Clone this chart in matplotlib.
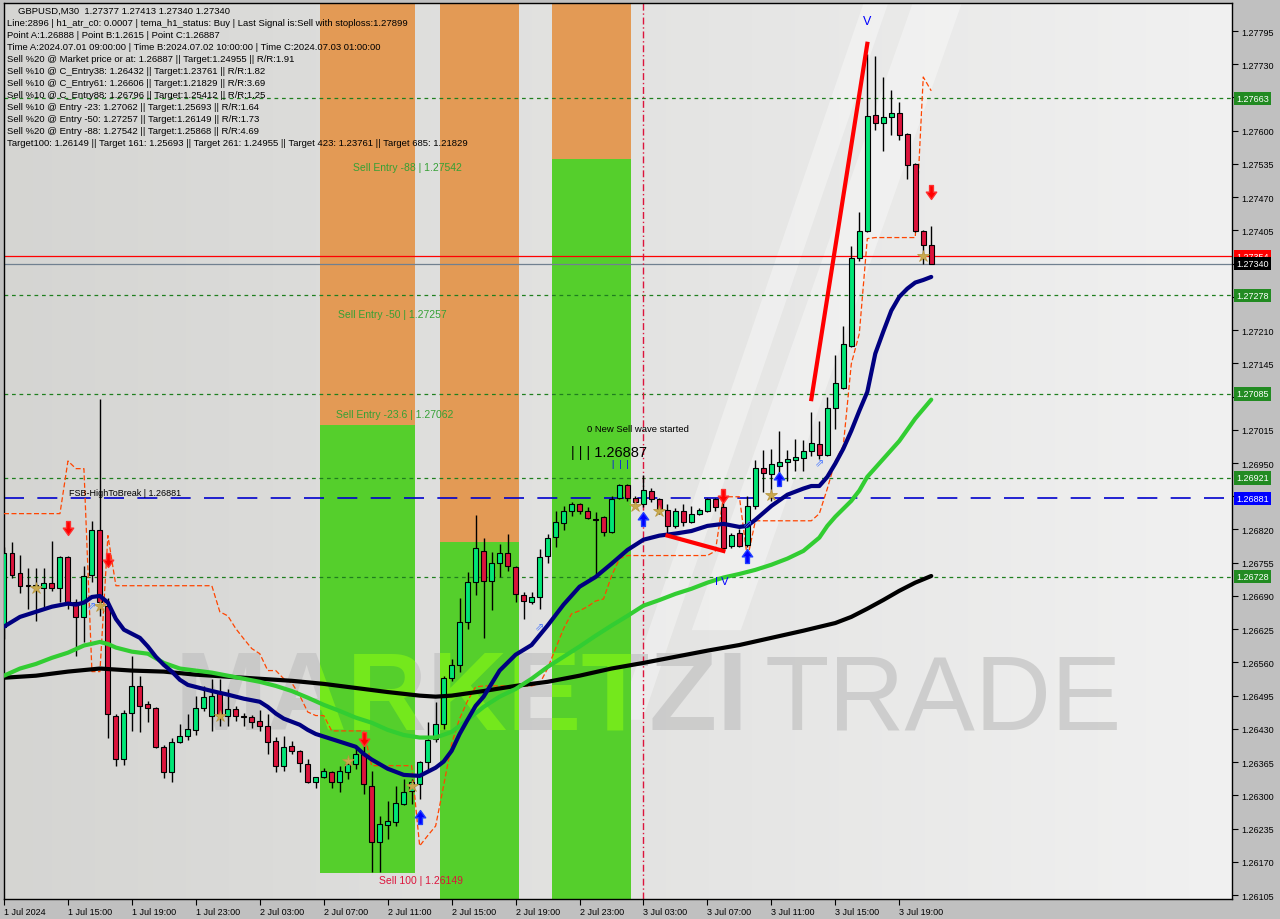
import numpy as np
import matplotlib.pyplot as plt
from matplotlib.patches import Rectangle, Polygon
from matplotlib.path import Path
from matplotlib.transforms import Bbox, TransformedBbox

plt.rcParams['font.family'] = ['Liberation Sans', 'DejaVu Sans']

# ---- GBPUSD M30 bars (1 Jul 11:00 .. 3 Jul 21:00) ----
opens = [1.26630, 1.26774, 1.26735, 1.26710, 1.26708, 1.26706, 1.26716, 1.26706, 1.26767, 1.26679,
         1.26649, 1.26731, 1.26819, 1.26671, 1.26456, 1.26371, 1.26461, 1.26514, 1.26479, 1.26471,
         1.26395, 1.26346, 1.26405, 1.26416, 1.26428, 1.26471, 1.26456, 1.26500, 1.26456, 1.26469,
         1.26456, 1.26454, 1.26446, 1.26436, 1.26407, 1.26358, 1.26397, 1.26387, 1.26362, 1.26326,
         1.26336, 1.26346, 1.26326, 1.26346, 1.26362, 1.26381, 1.26319, 1.26209, 1.26242, 1.26248,
         1.26283, 1.26309, 1.26323, 1.26366, 1.26411, 1.26440, 1.26530, 1.26555, 1.26639, 1.26718,
         1.26778, 1.26720, 1.26755, 1.26774, 1.26747, 1.26692, 1.26679, 1.26688, 1.26769, 1.26806,
         1.26833, 1.26856, 1.26870, 1.26856, 1.26841, 1.26845, 1.26816, 1.26882, 1.26907, 1.26882,
         1.26870, 1.26896, 1.26880, 1.26858, 1.26827, 1.26856, 1.26835, 1.26851, 1.26856, 1.26880,
         1.26864, 1.26788, 1.26813, 1.26790, 1.26866, 1.26941, 1.26929, 1.26945, 1.26952, 1.26956,
         1.26960, 1.26974, 1.26988, 1.26966, 1.27058, 1.27097, 1.27179, 1.27351, 1.27404, 1.27631,
         1.27615, 1.27627, 1.27635, 1.27594, 1.27535, 1.27404, 1.27377]
highs = [1.26786, 1.26796, 1.26770, 1.26745, 1.26745, 1.26745, 1.26798, 1.26769, 1.26769, 1.26684,
         1.26749, 1.26837, 1.27076, 1.26686, 1.26460, 1.26467, 1.26573, 1.26534, 1.26485, 1.26473,
         1.26399, 1.26413, 1.26440, 1.26460, 1.26495, 1.26514, 1.26528, 1.26528, 1.26508, 1.26475,
         1.26461, 1.26458, 1.26467, 1.26460, 1.26415, 1.26416, 1.26407, 1.26389, 1.26371, 1.26336,
         1.26354, 1.26348, 1.26358, 1.26371, 1.26395, 1.26397, 1.26348, 1.26260, 1.26289, 1.26319,
         1.26332, 1.26332, 1.26368, 1.26444, 1.26483, 1.26534, 1.26567, 1.26686, 1.26737, 1.26849,
         1.26804, 1.26776, 1.26792, 1.26812, 1.26749, 1.26698, 1.26698, 1.26782, 1.26812, 1.26856,
         1.26866, 1.26874, 1.26872, 1.26864, 1.26855, 1.26847, 1.26886, 1.26909, 1.26909, 1.26886,
         1.26927, 1.26902, 1.26882, 1.26870, 1.26862, 1.26870, 1.26866, 1.26862, 1.26882, 1.26882,
         1.26874, 1.26813, 1.26821, 1.26886, 1.26956, 1.26976, 1.26978, 1.27013, 1.26976, 1.26997,
         1.26995, 1.27050, 1.27033, 1.27080, 1.27162, 1.27218, 1.27375, 1.27441, 1.27750, 1.27747,
         1.27705, 1.27680, 1.27657, 1.27596, 1.27537, 1.27406, 1.27413]
lows = [1.26606, 1.26725, 1.26696, 1.26665, 1.26641, 1.26665, 1.26700, 1.26679, 1.26665, 1.26573,
        1.26600, 1.26718, 1.26651, 1.26413, 1.26358, 1.26360, 1.26426, 1.26424, 1.26444, 1.26393,
        1.26334, 1.26326, 1.26403, 1.26409, 1.26418, 1.26465, 1.26426, 1.26436, 1.26436, 1.26446,
        1.26436, 1.26432, 1.26426, 1.26381, 1.26346, 1.26348, 1.26381, 1.26346, 1.26324, 1.26315,
        1.26334, 1.26315, 1.26307, 1.26332, 1.26352, 1.26303, 1.26150, 1.26150, 1.26215, 1.26240,
        1.26281, 1.26283, 1.26293, 1.26346, 1.26405, 1.26430, 1.26524, 1.26542, 1.26626, 1.26692,
        1.26608, 1.26663, 1.26727, 1.26739, 1.26679, 1.26645, 1.26675, 1.26665, 1.26755, 1.26786,
        1.26819, 1.26847, 1.26851, 1.26841, 1.26733, 1.26808, 1.26814, 1.26880, 1.26876, 1.26866,
        1.26864, 1.26874, 1.26851, 1.26812, 1.26823, 1.26827, 1.26833, 1.26849, 1.26855, 1.26856,
        1.26776, 1.26784, 1.26786, 1.26786, 1.26860, 1.26894, 1.26876, 1.26915, 1.26915, 1.26935,
        1.26935, 1.26964, 1.26958, 1.26964, 1.27017, 1.27095, 1.27177, 1.27346, 1.27402, 1.27602,
        1.27561, 1.27592, 1.27582, 1.27506, 1.27402, 1.27340, 1.27340]
closes = [1.26774, 1.26731, 1.26710, 1.26712, 1.26712, 1.26716, 1.26706, 1.26767, 1.26679, 1.26649,
          1.26729, 1.26819, 1.26679, 1.26460, 1.26371, 1.26461, 1.26514, 1.26475, 1.26471, 1.26395,
          1.26346, 1.26405, 1.26416, 1.26430, 1.26471, 1.26493, 1.26495, 1.26456, 1.26469, 1.26456,
          1.26454, 1.26444, 1.26436, 1.26405, 1.26358, 1.26395, 1.26387, 1.26364, 1.26326, 1.26336,
          1.26348, 1.26326, 1.26348, 1.26362, 1.26381, 1.26323, 1.26209, 1.26244, 1.26250, 1.26285,
          1.26307, 1.26326, 1.26366, 1.26409, 1.26440, 1.26530, 1.26555, 1.26639, 1.26718, 1.26784,
          1.26720, 1.26755, 1.26774, 1.26749, 1.26694, 1.26680, 1.26688, 1.26767, 1.26804, 1.26835,
          1.26856, 1.26870, 1.26856, 1.26843, 1.26839, 1.26816, 1.26880, 1.26907, 1.26882, 1.26874,
          1.26898, 1.26880, 1.26860, 1.26827, 1.26856, 1.26835, 1.26851, 1.26858, 1.26880, 1.26864,
          1.26784, 1.26810, 1.26788, 1.26866, 1.26941, 1.26931, 1.26948, 1.26952, 1.26958, 1.26962,
          1.26974, 1.26990, 1.26966, 1.27058, 1.27107, 1.27183, 1.27351, 1.27404, 1.27629, 1.27615,
          1.27627, 1.27635, 1.27592, 1.27533, 1.27404, 1.27377, 1.27340]

# ---- moving averages (bar index, price) ----
navy_bar = [0, 2, 4, 6, 8, 9, 10, 11, 12, 13, 14, 15, 16, 17, 18, 19, 20, 21, 22, 23, 24, 26, 28, 30,
            32, 33, 34, 35, 36, 37, 38, 39, 40, 42, 44, 45, 46, 48, 50, 52, 53, 54, 55, 56, 57, 58,
            59, 60, 62, 64, 66, 68, 70, 72, 74, 76, 78, 80, 82, 84, 86, 88, 90, 92, 93, 94, 96, 98,
            100, 101, 102, 103, 104, 105, 106, 107, 108, 109, 110, 111, 112, 113, 114, 115, 116]
navy_val = [1.26630, 1.26649, 1.26659, 1.26669, 1.26675, 1.26673, 1.26677, 1.26688, 1.26690, 1.26677,
            1.26645, 1.26624, 1.26616, 1.26608, 1.26591, 1.26571, 1.26555, 1.26542, 1.26526, 1.26516,
            1.26512, 1.26504, 1.26497, 1.26489, 1.26483, 1.26473, 1.26460, 1.26450, 1.26444, 1.26438,
            1.26428, 1.26420, 1.26415, 1.26405, 1.26395, 1.26381, 1.26370, 1.26352, 1.26340, 1.26338,
            1.26346, 1.26354, 1.26366, 1.26387, 1.26420, 1.26448, 1.26475, 1.26493, 1.26544, 1.26575,
            1.26594, 1.26632, 1.26673, 1.26708, 1.26727, 1.26753, 1.26780, 1.26800, 1.26808, 1.26812,
            1.26817, 1.26827, 1.26831, 1.26825, 1.26827, 1.26839, 1.26866, 1.26888, 1.26900, 1.26905,
            1.26905, 1.26923, 1.26949, 1.26978, 1.27013, 1.27052, 1.27089, 1.27164, 1.27207, 1.27248,
            1.27275, 1.27291, 1.27303, 1.27308, 1.27314]

green_bar = [0, 2, 4, 6, 8, 10, 12, 13, 14, 16, 18, 20, 22, 24, 26, 28, 30, 32, 34, 36, 38, 40, 42,
             44, 46, 48, 50, 52, 54, 56, 58, 60, 62, 64, 66, 68, 70, 72, 74, 76, 78, 80, 82, 84, 86,
             88, 90, 92, 94, 96, 98, 100, 102, 103, 104, 106, 107, 108, 110, 112, 114, 116]
green_val = [1.26534, 1.26548, 1.26557, 1.26569, 1.26579, 1.26593, 1.26600, 1.26596, 1.26589, 1.26581,
             1.26577, 1.26559, 1.26548, 1.26544, 1.26540, 1.26534, 1.26528, 1.26522, 1.26514, 1.26504,
             1.26491, 1.26477, 1.26465, 1.26452, 1.26442, 1.26428, 1.26418, 1.26413, 1.26413, 1.26424,
             1.26448, 1.26473, 1.26493, 1.26508, 1.26528, 1.26551, 1.26571, 1.26591, 1.26612, 1.26632,
             1.26651, 1.26671, 1.26682, 1.26694, 1.26704, 1.26716, 1.26726, 1.26733, 1.26741, 1.26751,
             1.26763, 1.26778, 1.26804, 1.26827, 1.26845, 1.26876, 1.26896, 1.26923, 1.26958, 1.26993,
             1.27037, 1.27074]

black_bar = [0, 4, 8, 12, 16, 20, 24, 28, 32, 36, 40, 44, 48, 52, 54, 56, 60, 64, 68, 72, 76, 80,
             84, 88, 92, 96, 100, 104, 106, 108, 110, 112, 114, 116]
black_val = [1.26530, 1.26534, 1.26542, 1.26548, 1.26544, 1.26542, 1.26536, 1.26532, 1.26528, 1.26524,
             1.26518, 1.26510, 1.26502, 1.26495, 1.26493, 1.26495, 1.26504, 1.26514, 1.26522, 1.26534,
             1.26548, 1.26559, 1.26571, 1.26583, 1.26594, 1.26608, 1.26622, 1.26637, 1.26649, 1.26665,
             1.26682, 1.26700, 1.26716, 1.26729]

# trailing stop (orange dashed), one value per bar
trail = ([1.26851] * 8 + [1.26954, 1.26939, 1.26939, 1.26542, 1.26542, 1.26808] + [1.26710] * 13
         + [1.26659, 1.26651, 1.26626, 1.26606, 1.26587, 1.26577, 1.26544, 1.26544, 1.26528, 1.26520,
            1.26495, 1.26463, 1.26456, 1.26456]
         + [1.26426] * 5 + [1.26358] * 6
         + [1.26201, 1.26221, 1.26240, 1.26319, 1.26401, 1.26450, 1.26485, 1.26512]
         + [1.26514] * 7
         + [1.26518, 1.26548, 1.26587, 1.26626, 1.26655, 1.26661, 1.26669, 1.26680, 1.26684, 1.26729,
            1.26763]
         + [1.26769] * 11 + [1.26778, 1.26884, 1.26884, 1.26884, 1.26763] + [1.26837] * 8
         + [1.26851, 1.26900, 1.26954, 1.26984, 1.27144, 1.27203, 1.27389] + [1.27391] * 6
         + [1.27705, 1.27678])

# wave lines (bar, price)
wave1_bar = [101, 108]
wave1_val = [1.27075, 1.27770]
wave2_bar = [83, 90]
wave2_val = [1.26808, 1.26778]

# sell zones: (start bar, end bar, orange bottom, green bottom)
zone_start = [40, 55, 69]
zone_end = [51.9, 64.9, 78.9]
zone_split = [1.27025, 1.26795, 1.27545]
zone_bottom = [1.26149, 1.26090, 1.26090]

levels = [1.27663, 1.27278, 1.27085, 1.26921, 1.26728]
fsb_level = 1.26881
ask_level = 1.27354
bid_level = 1.27340

down_bar = [8, 13, 45, 90, 116]
down_val = [1.26823, 1.26761, 1.26411, 1.26886, 1.27480]
up_bar = [52, 80, 97, 93]
up_val = [1.26258, 1.26841, 1.26919, 1.26769]
star_bar = [4, 12, 27, 43, 51, 79, 82, 96, 115]
star_val = [1.26706, 1.26671, 1.26456, 1.26368, 1.26319, 1.26866, 1.26856, 1.26888, 1.27355]
hollow_bar = [11, 67, 102, 93]
hollow_val = [1.26669, 1.26628, 1.26950, 1.26830]

time_labels = ['1 Jul 2024', '1 Jul 15:00', '1 Jul 19:00', '1 Jul 23:00', '2 Jul 03:00', '2 Jul 07:00',
               '2 Jul 11:00', '2 Jul 15:00', '2 Jul 19:00', '2 Jul 23:00', '3 Jul 03:00', '3 Jul 07:00',
               '3 Jul 11:00', '3 Jul 15:00', '3 Jul 19:00']

header = [
    "Line:2896 | h1_atr_c0: 0.0007 | tema_h1_status: Buy | Last Signal is:Sell with stoploss:1.27899",
    "Point A:1.26888 | Point B:1.2615 | Point C:1.26887",
    "Time A:2024.07.01 09:00:00 | Time B:2024.07.02 10:00:00 | Time C:2024.07.03 01:00:00",
    "Sell %20 @ Market price or at: 1.26887 || Target:1.24955 || R/R:1.91",
    "Sell %10 @ C_Entry38: 1.26432 || Target:1.23761 || R/R:1.82",
    "Sell %10 @ C_Entry61: 1.26606 || Target:1.21829 || R/R:3.69",
    "Sell %10 @ C_Entry88: 1.26796 || Target:1.25412 || R/R:1.25",
    "Sell %10 @ Entry -23: 1.27062 || Target:1.25693 || R/R:1.64",
    "Sell %20 @ Entry -50: 1.27257 || Target:1.26149 || R/R:1.73",
    "Sell %20 @ Entry -88: 1.27542 || Target:1.25868 || R/R:4.69",
    "Target100: 1.26149 || Target 161: 1.25693 || Target 261: 1.24955 || Target 423: 1.23761 || Target 685: 1.21829",
]

# ---------------------------------------------------------------
W, H = 1280, 920
fig = plt.figure(figsize=(W / 100, H / 100), dpi=100, facecolor='#c0c0c0')
ax = fig.add_axes([4 / W, 20 / H, 1228 / W, 896 / H])
x = np.arange(len(opens))
o, hi, lo, c = map(np.array, (opens, highs, lows, closes))

# background gradient
grad = np.linspace(0, 1, 256)[None, :, None]
left_col = np.array([0.835, 0.835, 0.825])
right_col = np.array([0.945, 0.945, 0.945])
ax.imshow(left_col + grad * (right_col - left_col), extent=[0, 1, 0, 1], transform=ax.transAxes,
          aspect='auto', zorder=0)

# faint logo bands
for poly in ([(0.56, 0.30), (0.60, 0.30), (0.78, 1.0), (0.74, 1.0)],
             [(0.50, 0.20), (0.52, 0.20), (0.72, 1.0), (0.70, 1.0)]):
    ax.add_patch(Polygon(poly, closed=True, transform=ax.transAxes, facecolor='white',
                         alpha=0.35, lw=0, zorder=0.5))

wm1 = dict(x=0.139, y=0.19, s='MARKETZI', fontsize=80, fontweight='bold', transform=ax.transAxes)
wm2 = dict(x=0.619, y=0.19, s='TRADE', fontsize=76, transform=ax.transAxes)
for wm in (wm1, wm2):
    ax.text(color='#c2c2c2', alpha=0.7, zorder=0.6, **wm)

# zones
top = 1.2790
for xs, xe, split, bot in zip(zone_start, zone_end, zone_split, zone_bottom):
    ax.add_patch(Rectangle((xs - 0.5, split), xe - xs, top - split, facecolor='#e39a55',
                           lw=0, zorder=1))
    ax.add_patch(Rectangle((xs - 0.5, bot), xe - xs, split - bot, facecolor='#55cf2c',
                           lw=0, zorder=1))
    clip = TransformedBbox(Bbox([[xs - 0.5, bot], [xe - 0.5, split]]), ax.transData)
    for wm in (wm1, wm2):
        t = ax.text(color='#74e81c', zorder=1.2, **wm)
        t.set_clip_box(clip)
        t.set_clip_on(True)

# horizontal levels
for lv in levels:
    ax.axhline(lv, color='#1f7f1f', lw=0.9, ls=(0, (3, 3)), zorder=2)
ax.axhline(fsb_level, color='#0000cd', lw=1.2, ls=(0, (12, 8)), zorder=2)
ax.axhline(ask_level, color='red', lw=0.9, zorder=2)
ax.axhline(bid_level, color='#708090', lw=0.9, zorder=2)
ax.axvline(80, color='#dc143c', lw=1.0, ls=(0, (5, 2, 1, 2)), zorder=2)

# trailing stop
ax.plot(x, trail, color='#ff4500', lw=0.9, ls=(0, (4, 2)), zorder=3)

# candles
up = c >= o
ax.vlines(x, lo, hi, color='black', lw=1.0, zorder=4)
body_h = np.maximum(np.abs(c - o), 0.000012)
ax.bar(x, body_h, bottom=np.minimum(o, c), width=0.62,
       color=np.where(up, '#00e676', '#dc143c'), edgecolor='black', lw=0.8, zorder=4.5)

# moving averages
ax.plot(black_bar, black_val, color='black', lw=3, solid_capstyle='round', zorder=5)
ax.plot(green_bar, green_val, color='#32cd32', lw=3, solid_capstyle='round', zorder=5.1)
ax.plot(navy_bar, navy_val, color='#000080', lw=3, solid_capstyle='round', zorder=5.2)

# wave lines
ax.plot(wave1_bar, wave1_val, color='red', lw=3, zorder=5.3)
ax.plot(wave2_bar, wave2_val, color='red', lw=3, zorder=5.3)

# signals
arrow_down = Path([(-0.28, 1), (0.28, 1), (0.28, 0.05), (0.75, 0.05), (0, -1), (-0.75, 0.05),
                   (-0.28, 0.05), (-0.28, 1)], closed=True)
arrow_up = Path([(xx, -yy) for xx, yy in arrow_down.vertices], closed=True)
ax.plot(down_bar, down_val, ls='none', marker=arrow_down, ms=10, color='red', mec='#ff3030', zorder=6)
ax.plot(up_bar, up_val, ls='none', marker=arrow_up, ms=10, color='#0000ff', mec='#2040ff', zorder=6)
ax.plot(star_bar, star_val, ls='none', marker='*', ms=9, color='#c9a94e', mec='#b8963c', mew=0.5,
        zorder=6)
for b, v in zip(hollow_bar, hollow_val):
    ax.text(b, v, '\u21d7', color='#4a78ff', fontsize=8, ha='center', va='center',
            family='DejaVu Sans', zorder=6)

# chart texts
ax.text(43.6, 1.27529, 'Sell Entry -88 | 1.27542', color='#35a035', fontsize=7.5, va='center', zorder=7)
ax.text(41.75, 1.27241, 'Sell Entry -50 | 1.27257', color='#35a035', fontsize=7.5, va='center', zorder=7)
ax.text(41.5, 1.27046, 'Sell Entry -23.6 | 1.27062', color='#35a035', fontsize=7.5, va='center', zorder=7)
ax.text(46.9, 1.26134, 'Sell 100 | 1.26149', color='#dc143c', fontsize=7.5, va='center', zorder=7)
ax.text(72.9, 1.27017, '0 New Sell wave started', color='black', fontsize=6.8, va='center', zorder=7)
ax.text(70.9, 1.26972, '| | | 1.26887', color='black', fontsize=10.5, va='center', zorder=7)
ax.text(76.0, 1.26950, '|  |  |', color='#0000ff', fontsize=6.5, va='center', zorder=7)
ax.text(8.1, 1.26893, 'FSB-HighToBreak | 1.26881', color='black', fontsize=6.5, va='center', zorder=7)
ax.text(108, 1.27815, 'V', color='#0000ff', fontsize=9, ha='center', va='center', zorder=7)
ax.text(89.8, 1.26720, 'I V', color='#0000ff', fontsize=8, ha='center', va='center', zorder=7)

# axes
ax.set_xlim(0.125, 153.625)
ax.set_ylim(1.260972, 1.278498)
for sp in ax.spines.values():
    sp.set_color('black')
    sp.set_linewidth(1)

ax.set_xticks(np.arange(0, 113, 8))
ax.set_xticklabels(time_labels)
for lab in ax.get_xticklabels():
    lab.set_horizontalalignment('left')
ax.tick_params(axis='x', direction='out', length=4, labelsize=6.5, pad=2, colors='black')

yt = np.round(1.26105 + 0.00065 * np.arange(27), 5)
hidden = [1.27665, 1.27340, 1.27275, 1.27080, 1.26885]
ax.yaxis.tick_right()
ax.set_yticks(yt)
ax.set_yticklabels(['' if any(abs(v - h) < 1e-6 for h in hidden) else f'{v:.5f}' for v in yt])
ax.tick_params(axis='y', direction='out', length=4, labelsize=6.5, pad=3, colors='black')

# price boxes on the axis
boxes = [(lv, '#228b22') for lv in levels] + [(fsb_level, '#0000ff'), (ask_level, 'red'),
                                               (bid_level, 'black')]
for val, col in boxes:
    ax.text(1.0035, val, f'{val:.5f}', transform=ax.get_yaxis_transform(), ha='left', va='center',
            color='white', fontsize=6.5, clip_on=False, zorder=8,
            bbox=dict(boxstyle='square,pad=0.25', facecolor=col, edgecolor='none'))

# header block
fig.text(18 / W, 1 - 11 / H, 'GBPUSD,M30  1.27377 1.27413 1.27340 1.27340', fontsize=6.8,
         color='black', va='center')
for i, line in enumerate(header):
    fig.text(7 / W, 1 - (24 + 12 * i) / H, line, fontsize=6.8, color='black', va='center')

fig.savefig('out.png', dpi=100, facecolor=fig.get_facecolor())
